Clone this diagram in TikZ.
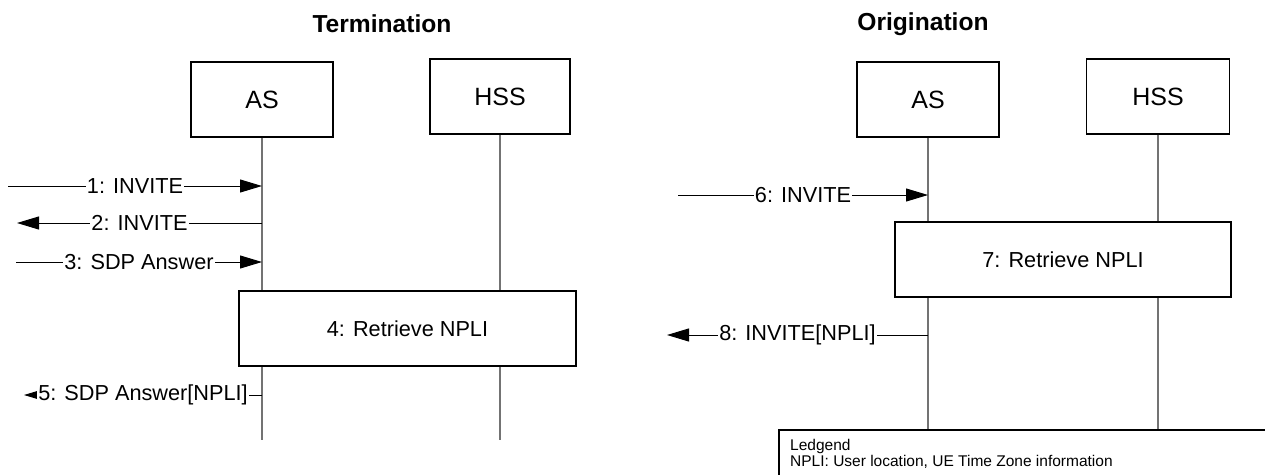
\documentclass[tikz,border=0pt]{standalone}
\usepackage{fontspec}
\setmainfont{Liberation Sans}
\usetikzlibrary{arrows.meta,positioning}

\tikzset{
  entity/.style={draw,fill=white,line width=1.2pt,minimum width=142pt,minimum height=75pt,inner sep=0pt,font=\fontsize{25}{30}\selectfont},
  lifeline/.style={draw=black!55,line width=1.5pt},
  procbox/.style={draw,fill=white,line width=1.2pt,minimum width=337pt,minimum height=75pt,inner sep=0pt,font=\fontsize{21.7}{26}\selectfont},
  msg/.style={line width=1pt,-{Triangle[length=22pt,width=13pt]}},
  msglabel/.style={fill=white,inner sep=1pt,font=\fontsize{21.7}{26}\selectfont},
  phasetitle/.style={font=\bfseries\fontsize{24.6}{30}\selectfont},
}

\begin{document}
\begin{tikzpicture}[x=1pt,y=-1pt]
\clip (0,0) rectangle (1265,474);
\fill[white] (0,0) rectangle (1265,474);

% Termination
\node[phasetitle] (termT) at (382,24) {Termination};
\node[entity] (tAS) at (262,99.5) {AS};
\node[entity,minimum width=140pt] (tHSS) at (500,96.5) {HSS};
\coordinate (tASend) at (262,440);
\coordinate (tHSSend) at (500,440);
\draw[lifeline] (tAS.south) -- (tASend);
\draw[lifeline] (tHSS.south) -- (tHSSend);

\coordinate (m1) at (8,186);
\draw[msg] (m1) -- node[msglabel] {1: INVITE} (tAS |- m1);
\coordinate (m2) at (17,223);
\draw[msg] (tAS |- m2) -- node[msglabel] {2: INVITE} (m2);
\coordinate (m3) at (16,262);
\draw[msg] (m3) -- node[msglabel] {3: SDP Answer} (tAS |- m3);
\node[procbox] (retr4) at (407.5,328.5) {4: Retrieve NPLI};
\coordinate (m5) at (24,395);
\draw[msg] (tAS |- m5) -- node[msglabel] {5: SDP Answer[NPLI]} (m5);

% Origination
\node[phasetitle] (origT) at (923,24) {Origination};
\node[entity] (oAS) at (928,99.5) {AS};
\node[entity,minimum width=143pt] (oHSS) at (1158,96.5) {HSS};
\coordinate (oASend) at (928,450);
\coordinate (oHSSend) at (1158,450);
\draw[lifeline] (oAS.south) -- (oASend);
\draw[lifeline] (oHSS.south) -- (oHSSend);

\coordinate (m6) at (678,195);
\draw[msg] (m6) -- node[msglabel] {6: INVITE} (oAS |- m6);
\node[procbox,minimum width=336pt] (retr7) at (1063,259.5) {7: Retrieve NPLI};
\coordinate (m8) at (667,335);
\draw[msg] (oAS |- m8) -- node[msglabel] {8: INVITE[NPLI]} (m8);

% legend
\node[draw,fill=white,line width=1.5pt,anchor=north west,minimum width=520pt,minimum height=70pt] (legend) at (778,429) {};
\node[align=left,inner sep=0pt,font=\fontsize{15.5}{16}\selectfont,below right=10pt and 12pt of legend.north west] (legendtxt) {Ledgend\\NPLI: User location, UE Time Zone information};
\end{tikzpicture}
\end{document}
